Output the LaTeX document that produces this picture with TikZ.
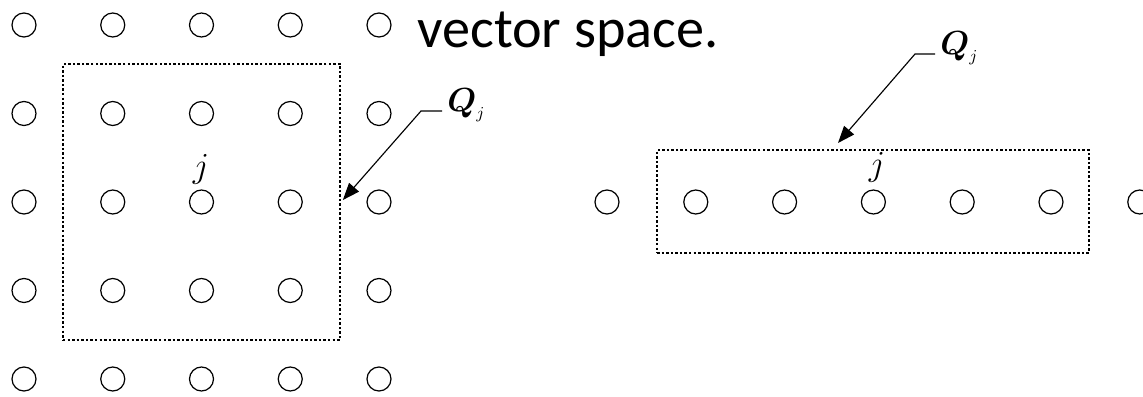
\RequirePackage{fix-cm}
\documentclass[tikz,border=0pt]{standalone}
\usepackage{amsmath,amssymb}
\usepackage{fontspec}
\newfontfamily\slidefont{Carlito}
\usepackage{tikz}
\usetikzlibrary{arrows.meta,positioning,calc}

\begin{document}
\begin{tikzpicture}[
  x=0.02cm, y=-0.02cm,
  site/.style={circle, draw=black, line width=0.7pt, minimum size=0.48cm, inner sep=0pt},
  window/.style={draw=black, line width=1.3pt, dash pattern=on 1.4pt off 1.2pt, inner sep=0pt},
  pointer/.style={-{Triangle[length=3.4mm, width=2.6mm]}, draw=black, line width=0.65pt},
  tag/.style={font=\fontsize{19}{22}\selectfont, inner sep=2.8pt, anchor=base west},
  idx/.style={font=\fontsize{20}{23}\selectfont, inner sep=0pt}
]
\useasboundingbox (0,0) rectangle (1143,396);

% heading text
\node[anchor=base west, inner sep=0pt, font=\slidefont\fontsize{32}{36}\selectfont] (title) at (417,47) {vector space.};

% 2D grid with square window
\foreach \c in {0,...,4}{
  \foreach \r in {0,...,4}{
    \node[site] (g-\c-\r) at (24+88.75*\c, 25+88.5*\r) {};
  }
}
\node[window, minimum width=5.54cm, minimum height=5.52cm] (boxL) at (201.5,202) {};
\node[idx] (jL) at (201,169) {$j$};
\node[tag] (qL) at (442,111) {$\boldsymbol{Q}_{\scriptscriptstyle j}$};
\draw[pointer, shorten >=1.5pt] (qL.base west) -- ++(-21,0) -- (boxL.east);

% 1D row with window
\foreach \k in {0,...,6}{
  \node[site] (r-\k) at (607+88.8*\k, 202) {};
}
\node[window, minimum width=8.64cm, minimum height=2.06cm] (boxR) at (873,201.5) {};
\node[idx] (jR) at (877,167) {$j$};
\node[tag] (qR) at (935,54) {$\boldsymbol{Q}_{\scriptscriptstyle j}$};
\coordinate (tipR) at (838,143);
\draw[pointer] (qR.base west) -- ++(-20,0) -- (tipR);

\end{tikzpicture}
\end{document}
